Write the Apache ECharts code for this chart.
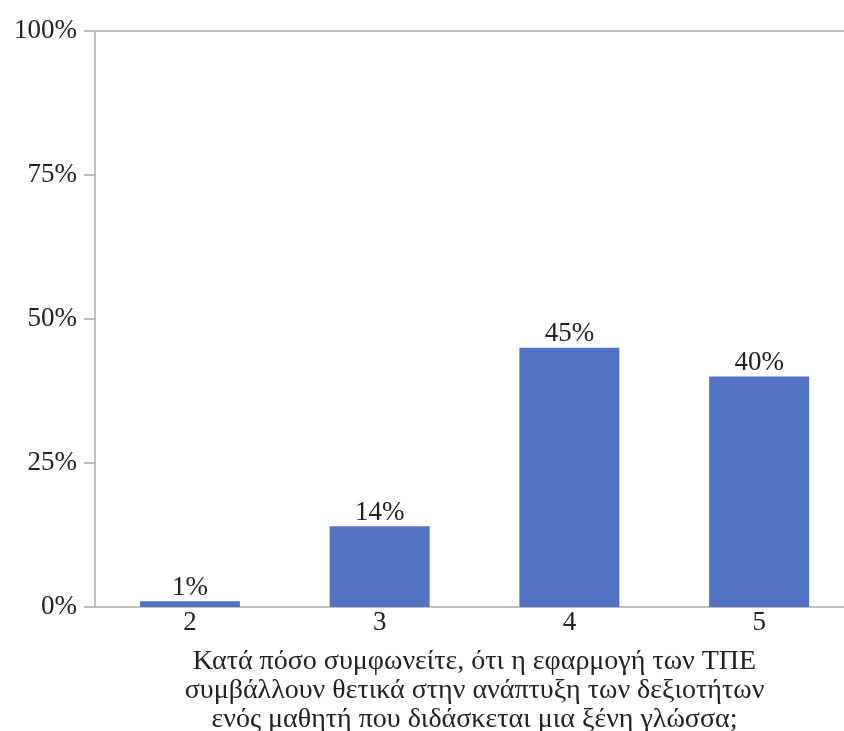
<!DOCTYPE html>
<html>
<head>
<meta charset="utf-8">
<script src="https://cdn.jsdelivr.net/npm/echarts@6/dist/echarts.min.js"></script>
<style>
  html, body { margin: 0; padding: 0; background: #fff; }
  #main { width: 844px; height: 731px; }
</style>
</head>
<body>
<div id="main"></div>
<script>
// κατηγορίες (κλίμακα 2-5) και ποσοστά
var categories = ['2', '3', '4', '5'];
var percents = [1, 14, 45, 40];
var yTicks = [0, 25, 50, 75, 100];
var axisTitle = 'Κατά πόσο συμφωνείτε, ότι η εφαρμογή των ΤΠΕ\nσυμβάλλουν θετικά στην ανάπτυξη των δεξιοτήτων\nενός μαθητή που διδάσκεται μια ξένη γλώσσα;';

var font = '"Liberation Serif", "DejaVu Serif", serif';
var lineCol = '#bfbfbf';
var txtCol = '#222';

var myChart = echarts.init(document.getElementById('main'));

var option = {
  animation: false,
  grid: { left: 95, top: 31, right: -10, bottom: 124, containLabel: false, outerBoundsMode: 'none' },
  xAxis: [
    {
      type: 'category',
      data: categories,
      axisLine: { lineStyle: { color: lineCol, width: 2 } },
      axisTick: { show: false },
      axisLabel: { color: txtCol, fontFamily: font, fontSize: 27, margin: 2 },
      name: axisTitle,
      nameLocation: 'middle',
      nameGap: 40,
      nameTextStyle: { color: txtCol, fontFamily: font, fontSize: 28, lineHeight: 29 }
    },
    {
      // γραμμή στο 100%
      type: 'category',
      position: 'top',
      data: categories,
      axisLine: { show: true, lineStyle: { color: lineCol, width: 2 } },
      axisTick: { show: false },
      axisLabel: { show: false }
    }
  ],
  yAxis: {
    type: 'value',
    min: 0,
    max: 100,
    interval: 25,
    axisLine: { show: true, lineStyle: { color: lineCol, width: 2 } },
    axisTick: { show: true, length: 11, lineStyle: { color: lineCol, width: 2 } },
    splitLine: { show: false },
    axisLabel: {
      color: txtCol, fontFamily: font, fontSize: 27, margin: 18,
      formatter: function (v) { return yTicks.indexOf(v) >= 0 ? v + '%' : ''; }
    }
  },
  series: [
    {
      type: 'bar',
      data: percents,
      barWidth: 100,
      itemStyle: { color: '#5273c4' },
      label: {
        show: true,
        position: 'top',
        distance: 0,
        color: txtCol,
        fontFamily: font,
        fontSize: 27,
        formatter: '{c}%'
      }
    }
  ]
};

myChart.setOption(option);
</script>
</body>
</html>
